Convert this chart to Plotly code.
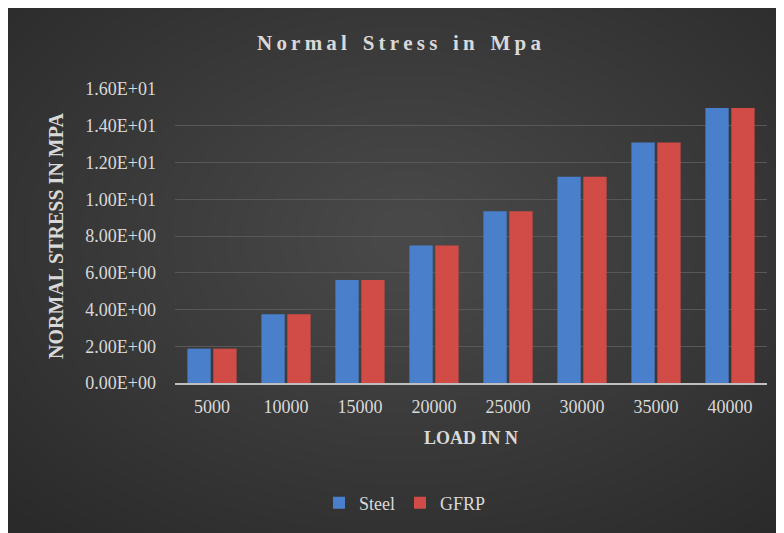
import plotly.graph_objects as go

# Data
loads = ["5000", "10000", "15000", "20000", "25000", "30000", "35000", "40000"]
steel = [1.87, 3.74, 5.61, 7.48, 9.35, 11.22, 13.09, 14.96]
gfrp = [1.87, 3.74, 5.61, 7.48, 9.35, 11.22, 13.09, 14.96]
y_ticks = [0, 2, 4, 6, 8, 10, 12, 14, 16]
y_tick_labels = ["0.00E+00", "2.00E+00", "4.00E+00", "6.00E+00", "8.00E+00",
                 "1.00E+01", "1.20E+01", "1.40E+01", "1.60E+01"]

# the page body adds an 8px white margin, which plays the role of the white border
W, H = 776, 525
L, R, T, B = 167, 17, 81, 150
PW, PH = W - L - R, H - T - B


def px_x(x):
    return (x - L) / PW


def px_y(y):
    return (H - B - y) / PH


FONT = "Liberation Serif, Times New Roman, serif"
TXT = "#d9d9d9"

fig = go.Figure()
fig.add_trace(go.Bar(x=loads, y=steel, name="Steel", marker_color="#4a7fcb",
                     marker_line_width=0))
fig.add_trace(go.Bar(x=loads, y=gfrp, name="GFRP", marker_color="#d14b47",
                     marker_line_width=0))

# soft lighter centre on the dark card (stacked translucent ellipses)
shapes = []
cx, cy = 400, 230
n = 30
for i in range(n):
    rx = 560 - i * 18
    ry = 380 - i * 12
    shapes.append(dict(type="circle", xref="paper", yref="paper", layer="below",
                       x0=px_x(cx - rx), x1=px_x(cx + rx),
                       y0=px_y(cy + ry), y1=px_y(cy - ry),
                       fillcolor="rgba(255,255,255,0.0085)", line_width=0))

spaced = " \u2002".join("\u2009".join(w) for w in ["Normal", "Stress", "in", "Mpa"])

fig.update_layout(
    width=W, height=H,
    margin=dict(l=L, r=R, t=T, b=B),
    paper_bgcolor="#2a2a2a",
    plot_bgcolor="rgba(0,0,0,0)",
    shapes=shapes,
    font=dict(family=FONT, size=18, color=TXT),
    title=dict(text="<b>" + spaced + "</b>", x=391 / W, xanchor="center",
               y=1 - 35 / H, yanchor="middle",
               font=dict(family=FONT, size=21, color=TXT)),
    barmode="group",
    bargap=0.3,
    bargroupgap=0.1,
    legend=dict(orientation="h", x=px_x(397), xanchor="center",
                y=px_y(495), yanchor="middle", font=dict(size=18, color=TXT),
                bgcolor="rgba(0,0,0,0)", itemwidth=30),
    xaxis=dict(
        title=dict(text="<b>LOAD IN N</b>", standoff=16,
                   font=dict(family=FONT, size=18, color=TXT)),
        showgrid=False, showline=True, linecolor="#bfbfbf", linewidth=2,
        ticks="", ticklabelstandoff=6, tickfont=dict(size=18, color=TXT),
    ),
    yaxis=dict(
        title=dict(text="<b>NORMAL STRESS IN MPA</b>", standoff=16,
                   font=dict(family=FONT, size=20, color=TXT)),
        range=[0, 16], tickvals=y_ticks, ticktext=y_tick_labels,
        showgrid=True, gridcolor="#585858", gridwidth=1,
        zeroline=False, showline=False, ticks="",
        ticklabelstandoff=18, tickfont=dict(size=18, color=TXT),
    ),
)

fig.write_html("out.html")
